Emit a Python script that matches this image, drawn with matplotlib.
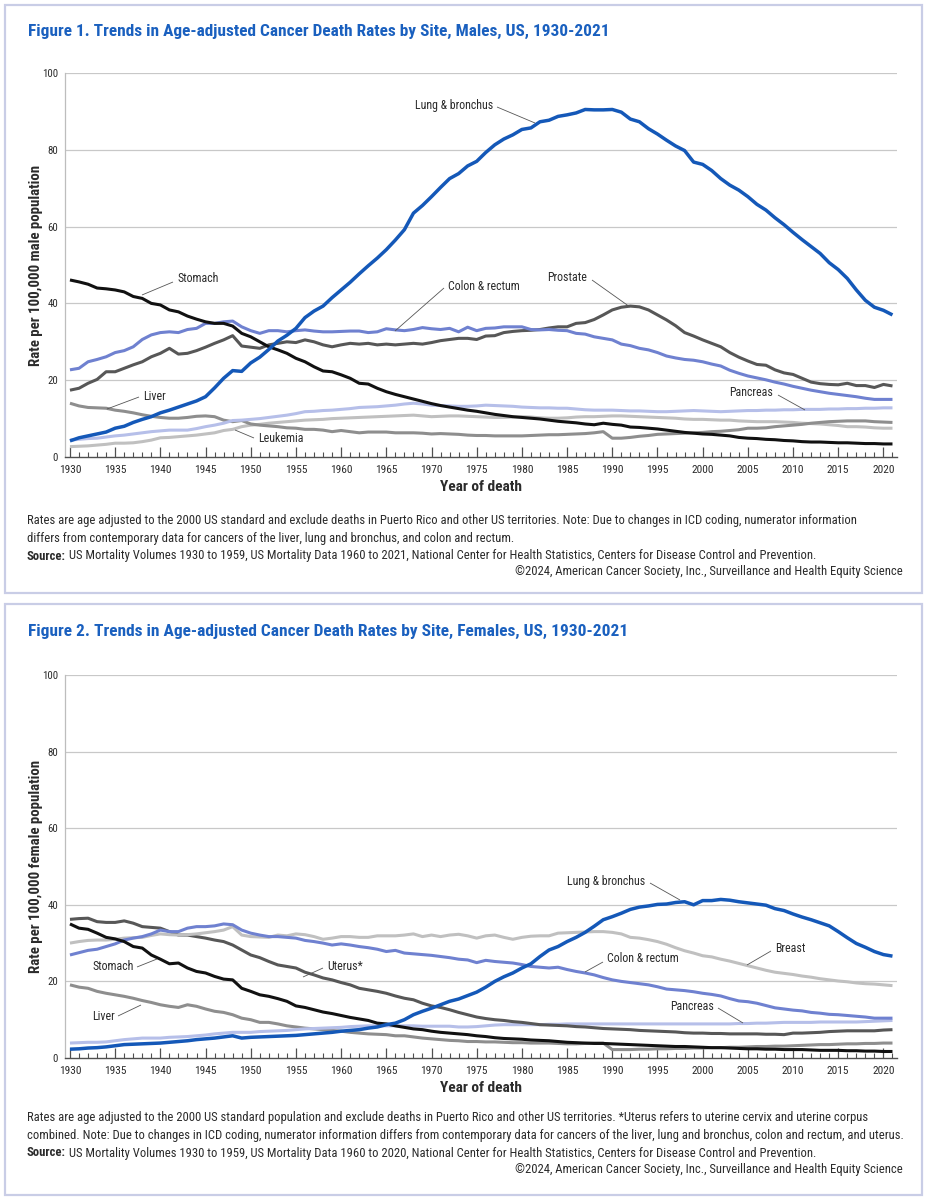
import numpy as np
import matplotlib
matplotlib.use('Agg')
import matplotlib.pyplot as plt
from matplotlib import font_manager
from matplotlib.patches import Rectangle
from matplotlib.ticker import MultipleLocator

W, H = 929, 1200
years = list(range(1930, 2022))

# ---------------- Males ----------------
m_lung = [4.2, 5.0, 5.5, 6.0, 6.5, 7.5, 8.0, 9.0, 9.8, 10.5, 11.5, 12.2, 13.0, 13.8, 14.6, 15.7, 18.0, 20.5, 22.5, 22.3,
          24.5, 26.0, 28.0, 30.2, 31.7, 33.5, 36.3, 38.0, 39.3, 41.5, 43.5, 45.5, 47.7, 49.8, 51.8, 54.0, 56.5, 59.2, 63.5, 65.5,
          67.8, 70.2, 72.5, 73.8, 75.8, 77.0, 79.3, 81.3, 82.8, 83.9, 85.3, 85.7, 87.3, 87.7, 88.7, 89.1, 89.6, 90.5, 90.4, 90.4,
          90.5, 89.8, 88.0, 87.3, 85.5, 84.1, 82.5, 81.0, 79.8, 76.8, 76.2, 74.6, 72.5, 70.8, 69.5, 67.8, 65.8, 64.3, 62.3, 60.5,
          58.5, 56.6, 54.8, 53.0, 50.6, 48.8, 46.5, 43.5, 40.8, 39.0, 38.2, 37.0]
m_stomach = [46.1, 45.6, 45.0, 44.0, 43.8, 43.5, 43.0, 41.8, 41.3, 40.0, 39.6, 38.3, 37.8, 36.7, 35.9, 35.2, 34.8, 34.8, 34.1, 32.2,
             31.3, 30.0, 28.7, 27.9, 27.0, 25.7, 24.8, 23.5, 22.4, 22.2, 21.4, 20.5, 19.2, 19.0, 17.9, 17.0, 16.3, 15.7, 15.1, 14.5,
             13.9, 13.4, 13.0, 12.6, 12.2, 11.9, 11.5, 11.1, 10.8, 10.5, 10.3, 10.1, 9.9, 9.6, 9.3, 9.1, 8.9, 8.6, 8.4, 8.8,
             8.5, 8.3, 7.8, 7.7, 7.5, 7.3, 7.0, 6.7, 6.4, 6.2, 6.0, 5.9, 5.7, 5.5, 5.1, 4.9, 4.8, 4.6, 4.5, 4.3,
             4.2, 4.0, 3.9, 3.9, 3.8, 3.7, 3.7, 3.6, 3.5, 3.5, 3.4, 3.4]
m_colon = [22.7, 23.1, 24.8, 25.4, 26.1, 27.2, 27.7, 28.7, 30.6, 31.8, 32.4, 32.6, 32.4, 33.2, 33.5, 34.8, 34.8, 35.2, 35.4, 33.9,
           32.9, 32.2, 32.9, 32.9, 32.6, 32.9, 33.1, 32.8, 32.6, 32.6, 32.7, 32.8, 32.8, 32.4, 32.6, 33.4, 33.1, 32.9, 33.2, 33.7,
           33.4, 33.2, 33.5, 32.6, 33.8, 32.9, 33.5, 33.6, 33.9, 33.9, 33.9, 33.2, 33.1, 33.2, 33.0, 32.9, 32.2, 32.0, 31.3, 30.9,
           30.5, 29.4, 29.0, 28.3, 27.9, 27.2, 26.3, 25.8, 25.4, 25.2, 24.8, 24.2, 23.7, 22.6, 21.8, 21.1, 20.6, 20.1, 19.5, 19.0,
           18.4, 17.9, 17.4, 17.0, 16.6, 16.3, 16.0, 15.7, 15.3, 15.0, 15.0, 15.0]
m_prostate = [17.4, 17.9, 19.2, 20.2, 22.2, 22.2, 23.1, 24.0, 24.8, 26.1, 27.0, 28.3, 26.8, 27.0, 27.7, 28.6, 29.6, 30.5, 31.6, 28.9,
              28.6, 28.3, 29.2, 29.6, 30.0, 29.8, 30.5, 30.0, 29.2, 28.7, 29.2, 29.6, 29.4, 29.6, 29.2, 29.4, 29.2, 29.4, 29.6, 29.4,
              29.8, 30.3, 30.6, 30.9, 30.9, 30.6, 31.5, 31.6, 32.4, 32.7, 32.9, 33.0, 33.2, 33.6, 33.9, 33.9, 34.8, 35.0, 35.8, 37.0,
              38.3, 39.0, 39.3, 39.1, 38.3, 37.0, 35.7, 34.2, 32.4, 31.5, 30.5, 29.6, 28.7, 27.2, 26.0, 25.0, 24.1, 23.9, 22.7, 21.9,
              21.5, 20.5, 19.5, 19.1, 18.9, 18.8, 19.2, 18.6, 18.6, 18.1, 18.9, 18.5]
m_liver = [14.0, 13.3, 12.9, 12.8, 12.7, 12.2, 11.9, 11.5, 11.0, 10.6, 10.3, 10.1, 10.1, 10.3, 10.6, 10.7, 10.5, 9.6, 9.2, 9.5,
           8.6, 8.3, 8.1, 7.9, 7.6, 7.5, 7.2, 7.2, 7.0, 6.6, 6.9, 6.6, 6.3, 6.5, 6.5, 6.5, 6.3, 6.3, 6.3, 6.2,
           6.0, 6.1, 6.0, 5.9, 5.7, 5.6, 5.6, 5.5, 5.5, 5.5, 5.5, 5.6, 5.7, 5.8, 5.8, 5.9, 6.0, 6.1, 6.3, 6.6,
           4.9, 4.9, 5.1, 5.4, 5.6, 5.9, 6.0, 6.1, 6.2, 6.3, 6.4, 6.6, 6.7, 6.9, 7.1, 7.5, 7.5, 7.6, 7.9, 8.1,
           8.3, 8.5, 8.8, 9.0, 9.2, 9.3, 9.4, 9.4, 9.4, 9.2, 9.1, 9.0]
m_leukemia = [2.7, 2.8, 2.9, 3.1, 3.3, 3.6, 3.6, 3.7, 4.0, 4.4, 5.0, 5.1, 5.3, 5.5, 5.7, 6.0, 6.3, 6.9, 7.2, 7.9,
              8.3, 8.5, 8.8, 9.0, 9.2, 9.4, 9.6, 9.7, 9.8, 10.0, 10.1, 10.2, 10.3, 10.4, 10.5, 10.6, 10.7, 10.8, 10.9, 10.7,
              10.5, 10.6, 10.7, 10.7, 10.6, 10.5, 10.4, 10.3, 10.3, 10.4, 10.5, 10.4, 10.2, 10.1, 10.1, 10.2, 10.4, 10.5, 10.5, 10.6,
              10.7, 10.7, 10.6, 10.5, 10.4, 10.3, 10.2, 10.1, 9.9, 9.8, 9.8, 9.7, 9.6, 9.6, 9.4, 9.3, 9.2, 9.2, 9.2, 9.1,
              9.0, 8.8, 8.7, 8.6, 8.4, 8.2, 7.9, 7.9, 7.8, 7.6, 7.5, 7.5]
m_pancreas = [4.4, 4.6, 4.8, 4.9, 5.2, 5.5, 5.7, 6.0, 6.3, 6.6, 6.8, 7.0, 7.0, 7.0, 7.4, 7.9, 8.3, 8.8, 9.5, 9.6,
              9.8, 10.0, 10.3, 10.6, 10.9, 11.3, 11.8, 11.9, 12.1, 12.2, 12.4, 12.6, 12.9, 13.0, 13.1, 13.3, 13.5, 13.8, 14.0, 13.8,
              13.5, 13.4, 13.3, 13.2, 13.2, 13.3, 13.5, 13.4, 13.3, 13.2, 13.0, 12.9, 12.8, 12.8, 12.7, 12.7, 12.5, 12.3, 12.2, 12.2,
              12.2, 12.1, 12.0, 12.0, 11.9, 11.8, 11.8, 11.9, 12.0, 12.1, 12.0, 11.9, 11.8, 11.9, 12.0, 12.1, 12.1, 12.2, 12.2, 12.3,
              12.3, 12.4, 12.4, 12.4, 12.5, 12.5, 12.6, 12.6, 12.7, 12.7, 12.8, 12.8]

# ---------------- Females ----------------
f_lung = [2.3, 2.4, 2.6, 2.7, 2.9, 3.2, 3.5, 3.6, 3.7, 3.8, 3.9, 4.1, 4.3, 4.5, 4.8, 5.0, 5.2, 5.5, 5.8, 5.2,
          5.4, 5.5, 5.6, 5.7, 5.8, 5.9, 6.1, 6.3, 6.5, 6.7, 7.0, 7.2, 7.4, 7.8, 8.1, 8.7, 9.1, 10.0, 11.3, 12.2,
          13.0, 13.9, 14.8, 15.4, 16.3, 17.2, 18.5, 20.0, 21.2, 22.2, 23.5, 24.6, 26.5, 28.2, 29.1, 30.4, 31.5, 32.8, 34.4, 36.1,
          36.9, 37.8, 38.8, 39.4, 39.7, 40.1, 40.2, 40.6, 40.8, 40.0, 41.1, 41.1, 41.4, 41.2, 40.8, 40.5, 40.2, 39.9, 39.0, 38.5,
          37.6, 36.8, 36.1, 35.3, 34.5, 33.0, 31.4, 29.9, 28.9, 27.8, 27.0, 26.6]
f_breast = [30.0, 30.4, 30.7, 30.8, 30.8, 31.0, 31.3, 31.4, 31.5, 32.0, 32.4, 32.2, 32.1, 32.2, 32.4, 32.7, 33.0, 33.4, 34.3, 32.1,
            31.7, 31.6, 31.5, 32.1, 31.9, 32.4, 32.2, 31.7, 31.0, 31.3, 31.7, 31.7, 31.5, 31.5, 31.9, 31.9, 31.9, 32.1, 32.4, 31.7,
            32.1, 31.7, 32.1, 32.3, 31.9, 31.3, 31.9, 32.1, 31.5, 31.0, 31.5, 31.8, 31.9, 31.9, 32.6, 32.7, 32.8, 32.9, 33.0, 33.0,
            32.8, 32.4, 31.5, 31.3, 30.9, 30.4, 29.7, 28.8, 28.0, 27.4, 26.7, 26.4, 25.8, 25.3, 24.7, 24.1, 23.5, 22.9, 22.4, 22.1,
            21.8, 21.4, 21.1, 20.7, 20.4, 20.1, 19.9, 19.6, 19.4, 19.3, 19.1, 18.9]
f_colon = [26.9, 27.5, 28.1, 28.4, 29.1, 29.8, 30.8, 31.3, 31.7, 32.4, 33.4, 33.0, 33.0, 33.9, 34.3, 34.3, 34.5, 35.0, 34.8, 33.4,
           32.6, 32.1, 31.7, 31.7, 31.5, 31.3, 30.7, 30.4, 30.0, 29.5, 29.8, 29.5, 29.1, 28.8, 28.4, 27.8, 28.1, 27.4, 27.2, 27.0,
           26.8, 26.5, 26.2, 25.8, 25.6, 24.9, 25.5, 25.2, 25.0, 24.8, 24.4, 23.9, 23.7, 23.5, 23.7, 23.1, 22.6, 22.2, 21.7, 21.0,
           20.4, 20.0, 19.7, 19.4, 19.1, 18.6, 18.0, 17.8, 17.6, 17.3, 16.9, 16.6, 16.2, 15.5, 14.9, 14.7, 14.3, 13.7, 13.1, 12.8,
           12.5, 12.3, 11.9, 11.7, 11.4, 11.3, 11.1, 10.9, 10.7, 10.4, 10.4, 10.4]
f_stomach = [35.0, 33.9, 33.6, 32.6, 31.5, 31.1, 30.4, 29.1, 28.7, 26.9, 25.8, 24.6, 24.8, 23.5, 22.6, 22.2, 21.3, 20.6, 20.4, 18.2,
             17.4, 16.5, 16.1, 15.5, 14.8, 13.6, 13.2, 12.6, 12.0, 11.6, 11.1, 10.6, 10.2, 9.8, 9.1, 8.9, 8.4, 8.0, 7.6, 7.4,
             7.0, 6.7, 6.5, 6.3, 6.1, 5.8, 5.6, 5.3, 5.1, 5.0, 4.9, 4.7, 4.6, 4.5, 4.3, 4.1, 4.0, 3.9, 3.8, 3.8,
             3.7, 3.6, 3.5, 3.4, 3.3, 3.2, 3.1, 3.0, 3.0, 2.9, 2.8, 2.7, 2.7, 2.6, 2.5, 2.4, 2.4, 2.3, 2.3, 2.2,
             2.2, 2.2, 2.1, 2.0, 2.0, 2.0, 1.9, 1.9, 1.8, 1.8, 1.7, 1.7]
f_uterus = [36.2, 36.4, 36.5, 35.6, 35.4, 35.4, 35.8, 35.2, 34.3, 34.1, 33.9, 33.0, 32.1, 32.1, 31.7, 31.3, 30.8, 30.4, 29.5, 28.2,
            26.9, 26.2, 25.2, 24.3, 23.9, 23.5, 22.4, 21.7, 20.9, 20.4, 19.7, 19.1, 18.2, 17.8, 17.4, 16.9, 16.2, 15.6, 15.2, 14.3,
            13.6, 13.2, 12.6, 11.9, 11.3, 10.7, 10.3, 10.0, 9.8, 9.5, 9.3, 9.0, 8.7, 8.6, 8.5, 8.4, 8.2, 8.1, 7.9, 7.7,
            7.6, 7.5, 7.4, 7.2, 7.1, 7.0, 6.9, 6.8, 6.6, 6.5, 6.5, 6.4, 6.4, 6.3, 6.3, 6.3, 6.3, 6.2, 6.2, 6.1,
            6.5, 6.5, 6.6, 6.7, 6.9, 7.0, 7.1, 7.1, 7.1, 7.1, 7.3, 7.4]
f_liver = [19.1, 18.5, 18.2, 17.4, 16.9, 16.5, 16.1, 15.6, 15.0, 14.5, 13.9, 13.5, 13.2, 13.9, 13.5, 12.8, 12.2, 11.9, 11.3, 10.4,
           10.0, 9.3, 9.3, 8.9, 8.4, 8.1, 7.8, 7.6, 7.4, 7.2, 7.0, 6.7, 6.5, 6.3, 6.2, 6.1, 5.8, 5.8, 5.5, 5.2,
           5.0, 4.8, 4.6, 4.5, 4.3, 4.3, 4.2, 4.2, 4.1, 4.0, 4.0, 3.9, 3.9, 3.9, 3.8, 3.7, 3.7, 3.8, 3.9, 3.9,
           2.2, 2.2, 2.2, 2.3, 2.3, 2.4, 2.4, 2.5, 2.5, 2.6, 2.6, 2.7, 2.7, 2.8, 2.8, 2.9, 3.0, 3.0, 3.1, 3.1,
           3.2, 3.3, 3.4, 3.5, 3.5, 3.6, 3.7, 3.7, 3.8, 3.8, 3.9, 3.9]
f_pancreas = [3.9, 4.0, 4.1, 4.1, 4.2, 4.5, 4.8, 5.0, 5.2, 5.2, 5.2, 5.4, 5.5, 5.6, 5.8, 6.0, 6.3, 6.5, 6.7, 6.7,
              6.7, 6.9, 7.0, 7.1, 7.2, 7.4, 7.6, 7.7, 7.8, 7.9, 8.0, 8.2, 8.3, 8.4, 8.4, 8.4, 8.4, 8.4, 8.4, 8.3,
              8.3, 8.3, 8.3, 8.1, 8.1, 8.2, 8.4, 8.6, 8.7, 8.7, 8.7, 8.7, 8.7, 8.8, 8.8, 8.9, 8.9, 8.9, 8.9, 8.9,
              8.9, 8.9, 8.9, 8.9, 8.9, 8.9, 8.9, 8.9, 8.9, 8.9, 8.9, 8.9, 8.9, 8.9, 9.0, 9.0, 9.1, 9.1, 9.2, 9.3,
              9.3, 9.3, 9.3, 9.4, 9.4, 9.4, 9.4, 9.4, 9.5, 9.6, 9.7, 9.8]

x_ticks = list(range(1930, 2021, 5))
y_ticks = [0, 20, 40, 60, 80, 100]

# ---------------- styling ----------------
C_LUNG = '#1458b8'
C_COLON = '#6f81d0'
C_PANC = '#b6bfe9'
C_BLACK = '#111111'
C_DARK = '#575757'
C_MID = '#8e8e8e'
C_LIGHT = '#c0c0c0'
TITLE_BLUE = '#1a60bf'
TXT = '#2b2b2b'

names = {f.name for f in font_manager.fontManager.ttflist}
FONT = next((n for n in ['Liberation Sans Narrow', 'Roboto Condensed', 'Open Sans Condensed',
                         'Noto Sans Condensed', 'Lato'] if n in names), 'DejaVu Sans')
plt.rcParams['font.family'] = [FONT, 'DejaVu Sans']

fig = plt.figure(figsize=(W / 100, H / 100), dpi=100)
fig.patch.set_facecolor('white')
renderer = fig.canvas.get_renderer()


def fit_size(s, width, size=10.0, **kw):
    t = fig.text(0, 0, s, fontsize=size, **kw)
    w = t.get_window_extent(renderer).width
    t.remove()
    return size * width / w


def ftext(x, y, s, width=None, size=8.0, ha='left', va='center', **kw):
    if width:
        size = fit_size(s, width, **{k: v for k, v in kw.items() if k in ('fontweight',)})
    return fig.text(x / W, 1 - y / H, s, ha=ha, va=va, fontsize=size, **kw)


def box(top, bottom):
    fig.add_artist(Rectangle((5 / W, 1 - bottom / H), (922 - 5) / W, (bottom - top) / H,
                             transform=fig.transFigure, fill=False, edgecolor='#c9cde6', lw=1.6))


YL_SIZE = fit_size('Rate per 100,000 male population', 200, fontweight='bold')


def make_axes(top, bottom, ylabel):
    ax = fig.add_axes([65 / W, 1 - bottom / H, (897 - 65) / W, (bottom - top) / H])
    ax.set_xlim(1929.45, 2021.5)
    ax.set_ylim(0, 100)
    for s in ['top', 'right']:
        ax.spines[s].set_visible(False)
    ax.spines['left'].set_color('#bdbdbd')
    ax.spines['left'].set_linewidth(0.9)
    ax.spines['bottom'].set_color('#505050')
    ax.spines['bottom'].set_linewidth(1.0)
    ax.set_yticks(y_ticks)
    ax.set_xticks(x_ticks)
    ax.xaxis.set_minor_locator(MultipleLocator(1))
    ax.tick_params(axis='y', length=0, pad=5, labelsize=7.8, labelcolor=TXT)
    ax.tick_params(axis='x', which='major', direction='in', length=7, width=0.9, color='#505050',
                   pad=6, labelsize=8.2, labelcolor=TXT)
    ax.tick_params(axis='x', which='minor', direction='in', length=3.5, width=0.8, color='#505050')
    ax.grid(axis='y', color='#c8c8c8', lw=0.9)
    ax.set_axisbelow(True)
    ax.yaxis.get_gridlines()[0].set_visible(False)
    mid = (top + bottom) / 2
    ftext(36, mid, ylabel, size=YL_SIZE, ha='center', va='center', rotation=90,
          color=TXT, fontweight='bold')
    return ax


def px2data(ax, px, py):
    return ax.transData.inverted().transform((px, H - py))


LBL_SIZE = fit_size('Colon & rectum', 72)


def label(ax, s, tx, ty, ha, lead):
    x, y = px2data(ax, tx, ty)
    ax.text(x, y, s, ha=ha, va='center', fontsize=LBL_SIZE, color=TXT, zorder=7)
    (a, b), (c, d) = px2data(ax, *lead[0]), px2data(ax, *lead[1])
    ax.plot([a, c], [b, d], color='#555555', lw=0.6, solid_capstyle='butt', zorder=6)


def series(ax, vals, color, lw=2.2, z=3):
    ax.plot(years, vals, color=color, lw=lw, solid_joinstyle='round', solid_capstyle='butt', zorder=z)


FS = fit_size('combined. Note: Due to changes in ICD coding, numerator information differs from contemporary data '
              'for cancers of the liver, lung and bronchus, colon and rectum, and uterus.', 866)

# ================= Figure 1 =================
box(5, 593)
ftext(28, 31, 'Figure 1. Trends in Age-adjusted Cancer Death Rates by Site, Males, US, 1930-2021',
      width=582, color=TITLE_BLUE, fontweight='bold')
ax1 = make_axes(73, 457, 'Rate per 100,000 male population')
series(ax1, m_leukemia, C_LIGHT)
series(ax1, m_liver, C_MID)
series(ax1, m_pancreas, C_PANC)
series(ax1, m_prostate, C_DARK)
series(ax1, m_colon, C_COLON)
series(ax1, m_stomach, C_BLACK, z=4)
series(ax1, m_lung, C_LUNG, lw=2.5, z=5)

label(ax1, 'Lung & bronchus', 493, 105, 'right', [(497, 107), (535, 123)])
label(ax1, 'Stomach', 177, 278, 'left', [(173, 282), (142, 295)])
label(ax1, 'Colon & rectum', 448, 286, 'left', [(444, 288), (395, 331)])
label(ax1, 'Prostate', 587, 277, 'right', [(592, 280), (630, 307)])
label(ax1, 'Liver', 143, 396, 'left', [(139, 397), (107, 409)])
label(ax1, 'Leukemia', 258, 439, 'left', [(254, 438), (235, 430)])
label(ax1, 'Pancreas', 773, 393, 'right', [(778, 395), (805, 410)])

ftext(481, 487, 'Year of death', width=82, ha='center', color=TXT, fontweight='bold')


def footnotes(y0, lines, source):
    for i, s in enumerate(lines):
        ftext(27, y0 + 17.5 * i, s, size=FS, color=TXT)
    ys = y0 + 17.5 * len(lines)
    sb = ftext(27, ys, 'Source:', size=FS, color=TXT, fontweight='bold')
    sw = sb.get_window_extent(renderer).width
    ftext(27 + sw + 3, ys, source, size=FS, color=TXT)
    ftext(903, ys + 16, '\u00a92024, American Cancer Society, Inc., Surveillance and Health Equity Science',
          size=FS, ha='right', color=TXT)


footnotes(521, ['Rates are age adjusted to the 2000 US standard and exclude deaths in Puerto Rico and other US '
                'territories. Note: Due to changes in ICD coding, numerator information',
                'differs from contemporary data for cancers of the liver, lung and bronchus, and colon and rectum.'],
          'US Mortality Volumes 1930 to 1959, US Mortality Data 1960 to 2021, National Center for '
          'Health Statistics, Centers for Disease Control and Prevention.')

# ================= Figure 2 =================
box(604, 1195)
ftext(28, 631, 'Figure 2. Trends in Age-adjusted Cancer Death Rates by Site, Females, US, 1930-2021',
      width=602, color=TITLE_BLUE, fontweight='bold')
ax2 = make_axes(675, 1058, 'Rate per 100,000 female population')
series(ax2, f_liver, C_MID)
series(ax2, f_pancreas, C_PANC)
series(ax2, f_uterus, C_DARK)
series(ax2, f_breast, C_LIGHT)
series(ax2, f_colon, C_COLON)
series(ax2, f_stomach, C_BLACK, z=4)
series(ax2, f_lung, C_LUNG, lw=2.5, z=5)

label(ax2, 'Lung & bronchus', 645, 881, 'right', [(650, 883), (680, 900)])
label(ax2, 'Breast', 775, 949, 'left', [(771, 951), (747, 965)])
label(ax2, 'Colon & rectum', 607, 959, 'left', [(603, 962), (585, 972)])
label(ax2, 'Pancreas', 714, 1007, 'right', [(718, 1008), (743, 1023)])
label(ax2, 'Stomach', 134, 967, 'right', [(137, 967), (157, 959)])
label(ax2, 'Uterus*', 327, 967, 'left', [(323, 968), (303, 977)])
label(ax2, 'Liver', 115, 1017, 'right', [(118, 1016), (141, 1005)])

ftext(481, 1088, 'Year of death', width=82, ha='center', color=TXT, fontweight='bold')

footnotes(1118, ['Rates are age adjusted to the 2000 US standard population and exclude deaths in Puerto Rico and '
                 'other US territories. *Uterus refers to uterine cervix and uterine corpus',
                 'combined. Note: Due to changes in ICD coding, numerator information differs from contemporary data '
                 'for cancers of the liver, lung and bronchus, colon and rectum, and uterus.'],
          'US Mortality Volumes 1930 to 1959, US Mortality Data 1960 to 2020, National Center for '
          'Health Statistics, Centers for Disease Control and Prevention.')

fig.savefig('out.png', dpi=100, facecolor='white')
